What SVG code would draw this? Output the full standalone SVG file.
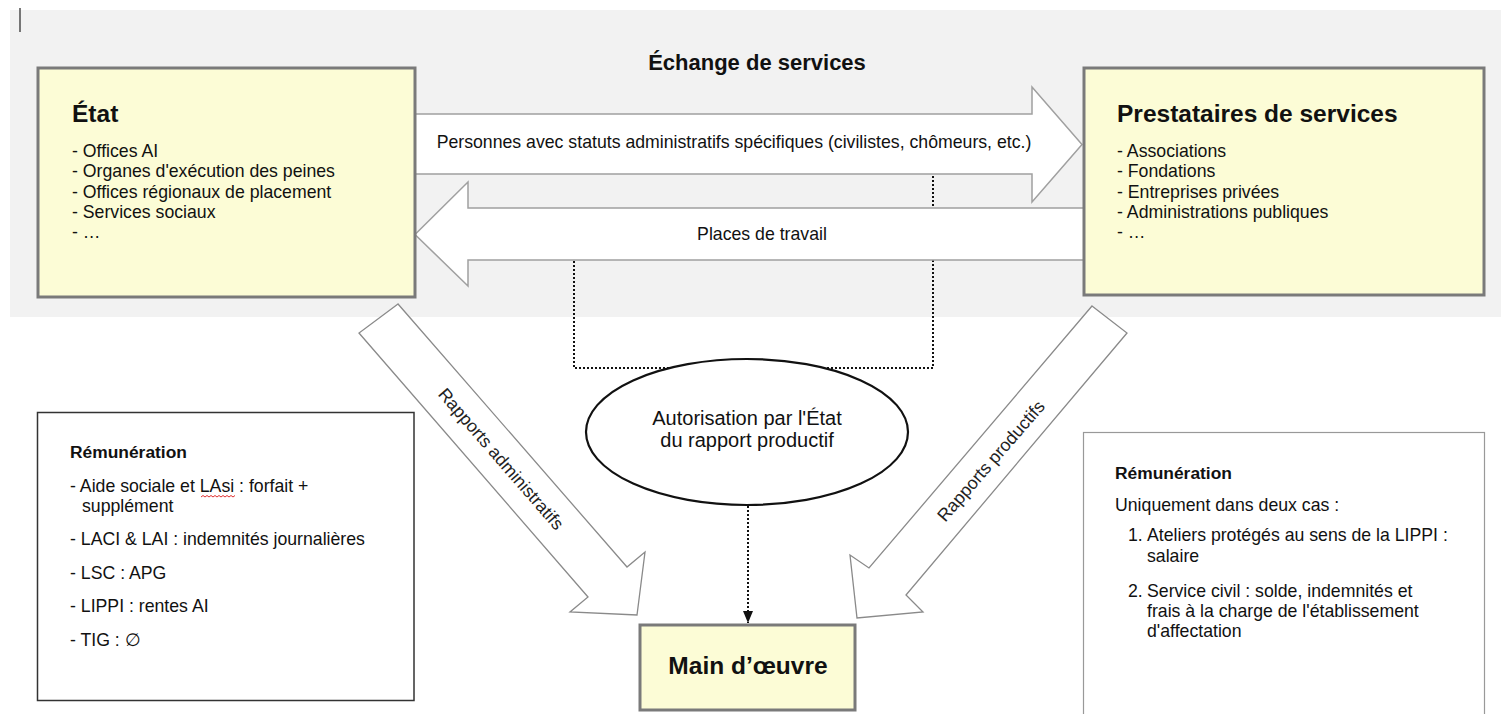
<svg xmlns="http://www.w3.org/2000/svg" width="1501" height="714" viewBox="0 0 1501 714">
<defs>
<style>
text{font-family:"Liberation Sans",Arial,Helvetica,sans-serif;fill:#111;}
.box{fill:#fcfcd6;stroke:#7a7a7a;stroke-width:3;}
.title{font-size:24.5px;font-weight:bold;}
.item{font-size:17.7px;}
.head{font-size:17.4px;font-weight:bold;}
.big{fill:#fff;stroke:#a0a0a0;stroke-width:1.5;}
.diag{fill:#fff;stroke:#8a8a8a;stroke-width:1.3;}
.dot{fill:none;stroke:#111;stroke-width:2;stroke-dasharray:2 2;}
.note{fill:#fff;}
</style>
<marker id="ah" viewBox="0 0 12 10" refX="12" refY="5" markerWidth="12" markerHeight="10" markerUnits="userSpaceOnUse" orient="auto">
<path d="M0,0 L12,5 L0,10 Z" fill="#111"/>
</marker>
</defs>

<rect x="10" y="10" width="1491" height="307" fill="#f2f2f2"/>
<line x1="20" y1="8" x2="20" y2="32" stroke="#222" stroke-width="1.2"/>

<g id="connectors">
  <path class="dot" d="M933,176 V368 H574 V260"/>
  <polygon id="arrow-personnes" class="big" points="405,114 1032,114 1032,87 1082,144.5 1032,202 1032,174 405,174"/>
  <text x="734" y="148" text-anchor="middle" class="item">Personnes avec statuts administratifs spécifiques (civilistes, chômeurs, etc.)</text>
  <polygon id="arrow-places" class="big" points="1090,208 468,208 468,182 415,234.5 468,286 468,260 1090,260"/>
  <text x="762" y="240" text-anchor="middle" class="item">Places de travail</text>
  <polygon id="arrow-admin" class="diag" points="398,304 359,333 588,597 570,612 637,615 645,552 627,567"/>
  <text transform="translate(501,459) rotate(49)" y="6" text-anchor="middle" class="item" style="fill:#222">Rapports administratifs</text>
  <polygon id="arrow-prod" class="diag" points="1092,306 1127,333 906,595 923,612 857,618 850,555 869,568"/>
  <text transform="translate(991,461) rotate(-49)" y="6" text-anchor="middle" class="item" style="fill:#222">Rapports productifs</text>
  <line class="dot" x1="748" y1="506" x2="748" y2="623" marker-end="url(#ah)"/>
</g>

<text x="757" y="70" text-anchor="middle" style="font-size:22px;font-weight:bold">Échange de services</text>

<g id="etat">
  <rect class="box" x="38" y="68" width="377" height="229"/>
  <text x="72" y="122" class="title">État</text>
  <text class="item">
    <tspan x="72" y="157">- Offices AI</tspan>
    <tspan x="72" y="177">- Organes d'exécution des peines</tspan>
    <tspan x="72" y="198">- Offices régionaux de placement</tspan>
    <tspan x="72" y="218">- Services sociaux</tspan>
    <tspan x="72" y="238">- …</tspan>
  </text>
</g>

<g id="prestataires">
  <rect class="box" x="1084" y="68" width="400" height="227"/>
  <text x="1117" y="122" class="title">Prestataires de services</text>
  <text class="item">
    <tspan x="1117" y="157">- Associations</tspan>
    <tspan x="1117" y="177">- Fondations</tspan>
    <tspan x="1117" y="198">- Entreprises privées</tspan>
    <tspan x="1117" y="218">- Administrations publiques</tspan>
    <tspan x="1117" y="238">- …</tspan>
  </text>
</g>

<g id="autorisation">
  <ellipse cx="747" cy="432" rx="161" ry="73" fill="#fff" stroke="#111" stroke-width="2.2"/>
  <text x="747" y="425" text-anchor="middle" style="font-size:20px">Autorisation par l'État</text>
  <text x="747" y="447" text-anchor="middle" style="font-size:20px">du rapport productif</text>
</g>

<g id="main-oeuvre">
  <rect class="box" x="640" y="625" width="215" height="85"/>
  <text x="748" y="674" text-anchor="middle" class="title">Main d’œuvre</text>
</g>

<g id="remuneration-gauche">
  <rect class="note" x="37.5" y="412.5" width="376.5" height="288" stroke="#333" stroke-width="1.5"/>
  <text x="70" y="458" class="head">Rémunération</text>
  <text class="item">
    <tspan x="70" y="492">- Aide sociale et LAsi : forfait +</tspan>
    <tspan x="82" y="512">supplément</tspan>
    <tspan x="70" y="545">- LACI &amp; LAI : indemnités journalières</tspan>
    <tspan x="70" y="579">- LSC : APG</tspan>
    <tspan x="70" y="612">- LIPPI : rentes AI</tspan>
    <tspan x="70" y="646">- TIG : ∅</tspan>
  </text>
  <path d="M201,497 l2,-1.5 l2,1.5 l2,-1.5 l2,1.5 l2,-1.5 l2,1.5 l2,-1.5 l2,1.5 l2,-1.5 l2,1.5 l2,-1.5 l2,1.5 l2,-1.5 l2,1.5 l2,-1.5 l2,1.5 l2,-1.5" fill="none" stroke="#e03030" stroke-width="1"/>
</g>

<g id="remuneration-droite">
  <rect class="note" x="1083.5" y="432.5" width="401" height="290" stroke="#999" stroke-width="1.2"/>
  <text x="1115" y="479" class="head">Rémunération</text>
  <text class="item">
    <tspan x="1115" y="511">Uniquement dans deux cas :</tspan>
    <tspan x="1128" y="541">1.</tspan><tspan x="1147" y="541">Ateliers protégés au sens de la LIPPI :</tspan>
    <tspan x="1147" y="562">salaire</tspan>
    <tspan x="1128" y="597">2.</tspan><tspan x="1147" y="597">Service civil : solde, indemnités et</tspan>
    <tspan x="1147" y="617">frais à la charge de l'établissement</tspan>
    <tspan x="1147" y="637">d'affectation</tspan>
  </text>
</g>
</svg>
